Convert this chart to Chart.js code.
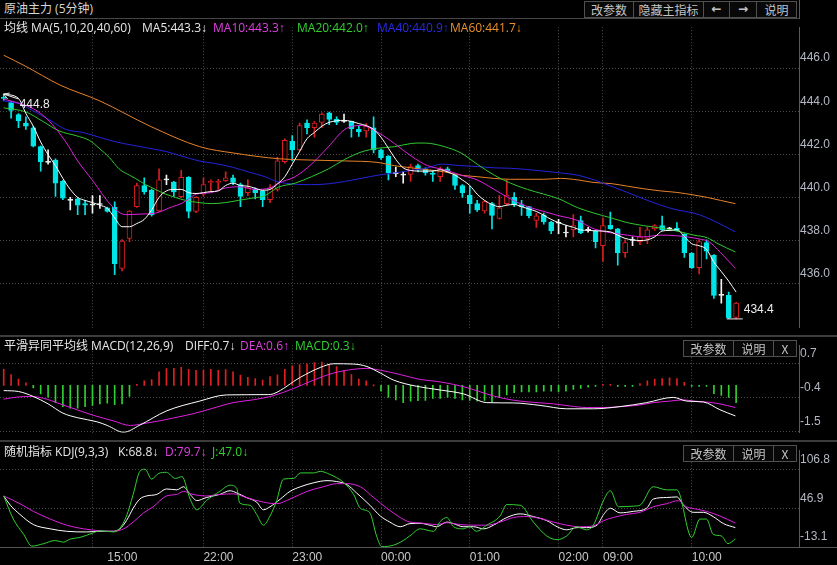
<!DOCTYPE html>
<html>
<head>
<meta charset="utf-8">
<title>原油主力 (5分钟)</title>
<script src="https://cdn.jsdelivr.net/npm/chart.js@4.4.1/dist/chart.umd.min.js"></script>
<style>
  html, body { margin: 0; padding: 0; background: #000; overflow: hidden; }
  #wrap { position: relative; width: 837px; height: 565px; background: #000; overflow: hidden;
          font-family: "Open Sans", "Noto Sans CJK SC", sans-serif; }
  canvas { position: absolute; left: 0; }
  .txt { position: absolute; font-size: 12px; line-height: 14px; white-space: nowrap; z-index: 3; }
  .txt b { font-weight: normal; font-family: "Liberation Sans", sans-serif; }
  .btn { position: absolute; height: 17px; border: 1px solid #505050; box-sizing: border-box; color: #c4c4c4;
         font-size: 12px; line-height: 15px; text-align: center; background: #080808; z-index: 3;
         font-family: "Noto Sans CJK SC", sans-serif; }
  .hl { position: absolute; left: 0; background: #464646; z-index: 2; }
</style>
</head>
<body>
<div id="wrap">
  <canvas id="main" width="837" height="317" style="top:19px;width:837px;height:317px"></canvas>
  <canvas id="macd" width="837" height="104" style="top:337px;width:837px;height:104px"></canvas>
  <canvas id="kdj" width="837" height="123" style="top:442px;width:837px;height:123px"></canvas>

  <div class="hl" style="top:18px;width:799px;height:1px"></div>
  <div class="hl" style="top:0;left:799px;width:1px;height:19px;background:#5a5a5a"></div>
  <div class="hl" style="top:335px;width:837px;height:2px;background:#3c3c3c"></div>
  <div class="hl" style="top:440px;width:837px;height:2px;background:#3c3c3c"></div>
  <div class="hl" style="top:547px;width:837px;height:1px;background:#555"></div>

  <div class="txt" style="left:4px;top:2px;color:#d6d6d6">原油主力 (5分钟)</div>
  <div class="txt" style="left:4px;top:21px;color:#e6e6e6">均线 MA(5,10,20,40,60)</div>
  <div class="txt" style="left:142px;top:21px;color:#e6e6e6">MA5:443.3<b>↓</b></div>
  <div class="txt" style="left:213px;top:21px;color:#e040e0">MA10:443.3<b>↑</b></div>
  <div class="txt" style="left:297px;top:21px;color:#30d030">MA20:442.0<b>↑</b></div>
  <div class="txt" style="left:377px;top:21px;color:#2a2ae6">MA40:440.9<b>↑</b></div>
  <div class="txt" style="left:450px;top:21px;color:#e8902a">MA60:441.7<b>↓</b></div>

  <div class="btn" style="left:584px;top:1px;width:50px">改参数</div>
  <div class="btn" style="left:633px;top:1px;width:71px">隐藏主指标</div>
  <div class="btn" style="left:703px;top:1px;width:27px;font-family:'DejaVu Sans';font-weight:bold">←</div>
  <div class="btn" style="left:729px;top:1px;width:28px;font-family:'DejaVu Sans';font-weight:bold">→</div>
  <div class="btn" style="left:756px;top:1px;width:41px">说明</div>

  <div class="txt" style="left:4px;top:339px;color:#e6e6e6">平滑异同平均线 MACD(12,26,9)</div>
  <div class="txt" style="left:185px;top:339px;color:#e6e6e6">DIFF:0.7<b>↓</b></div>
  <div class="txt" style="left:240px;top:339px;color:#e040e0">DEA:0.6<b>↑</b></div>
  <div class="txt" style="left:295px;top:339px;color:#30d030">MACD:0.3<b>↓</b></div>
  <div class="btn" style="left:683px;top:340px;width:51px">改参数</div>
  <div class="btn" style="left:733px;top:340px;width:41px">说明</div>
  <div class="btn" style="left:773px;top:340px;width:24px">X</div>

  <div class="txt" style="left:4px;top:445px;color:#e6e6e6">随机指标 KDJ(9,3,3)</div>
  <div class="txt" style="left:118px;top:445px;color:#e6e6e6">K:68.8<b>↓</b></div>
  <div class="txt" style="left:165px;top:445px;color:#e040e0">D:79.7<b>↓</b></div>
  <div class="txt" style="left:212px;top:445px;color:#30d030">J:47.0<b>↓</b></div>
  <div class="btn" style="left:683px;top:445px;width:51px">改参数</div>
  <div class="btn" style="left:733px;top:445px;width:41px">说明</div>
  <div class="btn" style="left:773px;top:445px;width:24px">X</div>
</div>

<script>
// candles, one per 5 minutes (index 0..99)
const open = [444.65,444.41,443.85,443.46,443.24,442.36,441.63,441.74,440.75,439.87,
  439.94,439.72,439.65,439.68,439.53,439.55,436.72,438.11,439.58,440.56,
  440.34,439.38,440.82,440.72,440.04,440.94,439.36,440.16,440.70,440.70,
  440.78,440.92,440.60,440.23,440.38,440.31,439.91,440.38,441.67,442.61,
  442.21,443.46,443.24,443.49,443.93,443.63,443.53,443.53,443.16,443.09,
  443.24,442.21,441.92,441.11,441.04,441.07,441.48,441.33,441.14,440.97,
  441.33,441.04,440.56,440.12,439.72,439.38,439.72,439.03,439.72,440.01,
  439.68,439.58,438.94,439.18,438.87,438.81,438.36,438.51,438.94,438.50,
  438.45,437.77,438.72,438.55,437.45,438.01,437.96,438.11,438.55,438.70,
  438.55,438.59,438.30,437.42,436.75,437.92,437.33,435.47,435.47,434.45];
const high = [444.80,444.45,443.90,443.75,443.30,442.40,442.21,441.80,440.80,440.01,
  440.00,439.87,440.09,440.09,439.56,439.80,438.05,439.40,440.67,440.92,
  440.40,441.33,441.04,440.75,441.26,440.97,440.05,440.92,440.82,440.85,
  441.19,441.04,440.67,440.82,440.45,440.33,440.60,441.88,442.73,442.87,
  443.46,443.60,443.53,443.93,443.97,443.75,443.87,443.55,443.31,443.43,
  443.75,442.25,441.95,441.41,441.19,441.55,441.55,441.38,441.26,441.41,
  441.41,441.08,440.60,440.53,439.87,439.87,439.78,440.09,440.82,440.23,
  439.87,439.60,439.28,439.28,438.90,438.99,438.70,439.21,439.14,438.62,
  438.48,439.06,439.33,438.58,438.04,438.18,438.62,438.62,438.75,439.14,
  438.62,438.84,438.33,437.45,438.04,438.04,437.36,436.21,435.62,435.15];
const low = [444.50,443.68,443.24,443.16,442.35,441.23,441.55,440.06,439.90,439.43,
  439.21,439.21,439.28,439.50,439.33,436.43,436.60,437.96,439.55,440.16,
  439.14,439.35,440.60,440.06,440.00,439.06,439.30,440.06,440.31,440.38,
  440.75,440.60,439.58,440.09,439.94,439.58,439.77,440.30,441.60,441.70,
  442.15,442.95,442.80,443.24,443.38,443.38,443.49,442.80,442.84,442.80,
  442.07,441.77,440.82,440.97,440.67,440.75,441.19,441.04,440.75,440.75,
  441.19,440.38,440.01,439.28,439.36,439.28,438.55,439.00,439.65,439.58,
  439.18,439.06,438.62,438.77,438.33,438.33,438.18,438.18,438.33,438.40,
  437.67,437.04,438.52,436.87,437.23,437.77,437.82,437.86,438.48,438.48,
  438.48,438.45,437.23,436.72,436.46,437.16,435.33,435.11,434.40,434.38];
const close = [444.60,444.04,443.56,443.31,442.39,441.67,441.63,440.67,439.97,439.87,
  439.65,439.65,439.65,439.68,439.36,436.94,437.99,439.38,440.56,440.26,
  439.21,440.82,440.82,440.26,440.94,439.36,440.01,440.60,440.75,440.75,
  440.92,440.70,440.06,440.45,440.23,439.91,440.45,441.70,442.65,442.21,
  443.34,443.24,443.46,443.87,443.63,443.49,443.53,443.19,443.05,443.31,
  442.21,441.85,441.14,441.11,441.04,441.44,441.33,441.14,441.08,441.33,
  441.23,440.56,440.23,439.72,439.43,439.82,439.18,439.53,440.12,439.68,
  439.58,439.16,439.16,438.87,438.45,438.81,438.36,438.70,438.36,438.50,
  437.96,438.70,438.55,437.45,437.92,438.01,438.18,438.51,438.70,438.51,
  438.55,438.48,437.45,436.75,437.96,437.52,435.47,435.47,434.42,435.11];

// moving averages as [candle index, price]
const ma5 = [[0,444.8],[2,444.6],[3,443.9],[4,443.31],[5,442.58],[6,441.99],[7,441.48],[8,440.89],[9,440.38],
  [10,440.01],[11,439.87],[12,439.77],[13,439.65],[14,439.5],[15,439.06],[16,438.65],[17,438.65],[18,438.8],
  [19,438.99],[20,439.43],[21,440.01],[22,440.31],[23,440.38],[24,440.38],[25,440.23],[26,440.19],[27,440.23],
  [28,440.28],[29,440.31],[30,440.56],[31,440.67],[32,440.56],[33,440.53],[34,440.43],[35,440.34],[36,440.38],
  [37,440.63],[38,440.97],[39,441.55],[40,442.14],[41,442.73],[42,443.02],[43,443.31],[44,443.49],[45,443.56],
  [46,443.58],[47,443.53],[48,443.43],[49,443.34],[50,443.16],[51,442.8],[52,442.29],[53,441.77],[54,441.38],
  [55,441.26],[56,441.23],[57,441.23],[58,441.23],[59,441.29],[60,441.19],[61,441.04],[62,440.82],[63,440.56],
  [64,440.16],[65,439.87],[66,439.68],[67,439.58],[68,439.65],[69,439.68],[70,439.58],[71,439.47],[72,439.36],
  [73,439.18],[74,438.99],[75,438.84],[76,438.72],[77,438.62],[78,438.5],[79,438.48],[80,438.46],[82,438.41],
  [83,438.26],[84,438.11],[85,438.04],[86,438.01],[87,438.04],[88,438.18],[89,438.45],[90,438.48],[91,438.51],
  [92,438.2],[93,437.86],[94,437.77],[95,437.6],[96,437.01],[97,436.57],[98,436.13],[99,435.62]];
const ma10 = [[0,444.56],[1,444.48],[4,444.12],[6,443.6],[8.4,442.58],[10,441.7],[12,440.8],[14.7,439.58],
  [16.5,439.21],[18.7,439.24],[20.5,439.28],[22.8,439.58],[24,439.72],[25,439.94],[26,440.16],[28,440.23],
  [30,440.45],[32,440.5],[34,440.38],[36,440.45],[37.1,440.67],[39.4,440.97],[41.6,441.55],[43.9,442.36],
  [46.1,443.16],[48.3,443.34],[50.6,443.02],[52.8,442.51],[55.1,441.92],[57.3,441.48],[59.6,441.29],
  [61.8,441.04],[64,440.82],[66.3,440.38],[68.5,439.94],[70.8,439.58],[73,439.36],[74.8,439.18],[77.5,438.95],
  [79.8,438.55],[84.3,438.26],[86.5,438.18],[88.8,438.26],[91,438.23],[94.2,438.07],[95.3,437.96],
  [96.9,437.45],[98.9,436.72]];
const ma20 = [[0,444.16],[3,443.97],[5.3,443.53],[7.5,443.09],[9.8,442.87],[11.6,442.65],[12.9,442.29],
  [14.3,441.85],[15.6,441.33],[17,441.04],[17.8,440.89],[19.2,440.6],[20.5,440.38],[21.9,440.16],[23.2,440.01],
  [24.6,439.87],[26.4,439.77],[28.2,439.72],[30,439.77],[31.7,439.87],[33.5,439.97],[35.3,440.09],[37.1,440.48],
  [39.4,440.67],[41.6,440.97],[43.9,441.33],[46.1,441.77],[48.3,442.11],[50.6,442.29],[52.8,442.36],
  [55.1,442.51],[56.4,442.53],[57.7,442.51],[59.6,442.36],[61.8,442.07],[64,441.55],[66.3,441.04],
  [68.5,440.67],[70.8,440.38],[73,440.16],[75,439.95],[77.6,439.53],[79.8,439.28],[82.1,439.06],[84.3,438.84],
  [86.5,438.7],[88.8,438.59],[91,438.45],[93.3,438.26],[95.1,438.14],[96.4,437.89],[97.7,437.67],[98.9,437.48]];
const ma40 = [[0,444.48],[2.2,444.34],[3.9,444.04],[6.2,443.6],[8.4,443.16],[10.7,443.02],[12.9,442.8],
  [15.2,442.58],[17.4,442.43],[19.6,442.29],[21.9,442.14],[24.1,441.92],[26.4,441.7],[28.6,441.58],
  [30.9,441.41],[33.1,441.19],[35.3,440.97],[37.1,440.73],[41.6,440.6],[43.9,440.64],[46.1,440.75],
  [48.3,440.89],[50.6,441.04],[52.8,441.14],[55.1,441.26],[57.3,441.38],[59.1,441.55],[61.8,441.48],
  [64,441.44],[66.3,441.38],[68.5,441.36],[70.8,441.3],[73,441.23],[75.3,441.14],[77.6,441.04],[79.8,440.82],
  [82.1,440.53],[84.3,440.24],[86.5,439.94],[88.8,439.65],[91,439.43],[93.3,439.28],[95.1,439.06],
  [96.9,438.77],[98.9,438.41]];
const ma60 = [[0,446.6],[2.9,446.1],[7.6,445.22],[13,444.48],[19.8,443.31],[26.5,442.36],[31,442.07],
  [37.2,441.8],[41.6,441.74],[46.1,441.7],[50.6,441.63],[52.8,441.48],[55.1,441.38],[57.3,441.29],
  [59.6,441.19],[61.8,441.04],[64,440.97],[66.3,440.89],[68.5,440.85],[73,440.85],[75.3,440.89],
  [77.6,440.82],[79.8,440.7],[82.1,440.65],[84.3,440.53],[86.5,440.41],[88.8,440.31],[91,440.24],
  [93.3,440.12],[95.1,440.01],[96.9,439.87],[98.9,439.72]];

// MACD histogram (one bar per candle) and the two lines
const macdHist = [0.52,0.35,0.20,0.08,-0.08,-0.28,-0.38,-0.56,-0.69,-0.74,
  -0.74,-0.69,-0.65,-0.60,-0.58,-0.63,-0.60,-0.36,0.01,0.15,
  0.19,0.44,0.54,0.55,0.58,0.52,0.49,0.49,0.52,0.49,
  0.51,0.44,0.33,0.26,0.22,0.17,0.28,0.34,0.52,0.63,
  0.67,0.70,0.74,0.75,0.67,0.61,0.49,0.35,0.20,0.15,
  0.00,-0.19,-0.39,-0.47,-0.56,-0.51,-0.50,-0.49,-0.42,-0.42,
  -0.39,-0.42,-0.47,-0.49,-0.51,-0.49,-0.54,-0.40,-0.31,-0.24,
  -0.21,-0.21,-0.21,-0.19,-0.19,-0.21,-0.19,-0.13,-0.10,-0.06,
  -0.03,0.01,0.03,-0.02,-0.02,-0.02,0.06,0.15,0.20,0.22,
  0.24,0.22,0.10,-0.02,-0.02,-0.02,-0.27,-0.33,-0.39,-0.56];
const diff = [[0,-0.17],[2,-0.2],[4,-0.36],[6,-0.6],[8,-0.9],[10,-1.05],[12.6,-1.18],[14,-1.3],[16.2,-1.52],
  [18.4,-1.29],[22,-0.83],[26.5,-0.51],[30.1,-0.31],[35.6,-0.3],[36.5,-0.27],[40.1,0.26],[42.8,0.58],
  [44.6,0.7],[47.3,0.69],[49.1,0.61],[50.9,0.4],[52.7,0.17],[55.8,-0.03],[59,-0.15],[62.2,-0.28],
  [65.3,-0.56],[68.9,-0.57],[72.5,-0.65],[76.1,-0.76],[79.7,-0.76],[83.3,-0.69],[86.9,-0.56],[90.5,-0.39],
  [92.3,-0.51],[94.6,-0.54],[96.8,-0.79],[98.9,-0.99]];
const dea = [[0,-0.45],[1.8,-0.38],[3.6,-0.36],[5.4,-0.42],[7.6,-0.6],[9.9,-0.79],[12.1,-0.97],[14.8,-1.15],
  [17.1,-1.3],[18.9,-1.24],[21.1,-1.15],[22.9,-1.06],[25.6,-0.92],[28.3,-0.74],[31,-0.56],[33.7,-0.47],
  [36.5,-0.33],[39.2,-0.1],[41.9,0.17],[44.6,0.4],[47.3,0.52],[49.1,0.55],[50.9,0.49],[53.6,0.35],
  [56.3,0.19],[58.5,0.13],[60.8,0.03],[63,-0.1],[65.3,-0.28],[67.5,-0.42],[69.8,-0.51],[72.1,-0.56],
  [74.3,-0.6],[76.6,-0.67],[78.8,-0.72],[81.1,-0.72],[83.3,-0.69],[85.6,-0.65],[87.8,-0.56],[90.1,-0.51],
  [91.9,-0.47],[93.2,-0.51],[95,-0.54],[96.8,-0.6],[98.9,-0.72]];

// KDJ lines
const kdjK = [[0,66.2],[0.9,51.8],[2.2,37.5],[4,21.8],[6.3,15.1],[8.5,11.3],[11.2,10.3],[13,11.3],[14.8,11.3],
  [15.7,15.1],[16.6,28],[17.5,47.1],[18.4,61.4],[19.3,66.2],[20.7,68.6],[22,77.1],[23.4,75.7],[24.3,80.5],
  [25.2,68.6],[26.1,59],[27.4,63.8],[29.2,68.6],[30.6,74.3],[31.5,70.9],[32.8,63.8],[34.2,56.6],[35.1,44.7],
  [36,49.4],[37.4,61.4],[38.7,73.3],[40.1,80.5],[41.9,86.7],[43.7,90],[45,88.6],[46.4,83.8],[47.7,70.9],
  [49.5,51.8],[50.9,35.1],[52.2,25.6],[53.6,18.4],[54.9,23.2],[56.3,23.7],[57.6,20.8],[58.5,18.4],[59.9,25.6],
  [60.8,23.2],[62.1,18.4],[63.5,18.4],[64.9,15.1],[66.2,20.8],[68,32.7],[69.8,38.4],[71.6,34.1],[73.4,27.9],
  [74.8,18.4],[76.1,13.6],[77.5,17],[78.8,17],[80.2,20.8],[81.1,37.5],[82,47.1],[83.3,39.9],[85.1,42.3],
  [86.9,47.1],[87.8,61.4],[89.6,63.8],[91,64.7],[91.9,51.8],[93.2,40.8],[94.6,40.8],[95.9,34.1],[97.3,23.2],
  [98.9,17]];
const kdjD = [[0,66.2],[2.2,54.2],[4,42.3],[6.3,30.3],[8.5,20.8],[10.8,15.1],[13,12.2],[14.8,11.3],[16.2,15.1],
  [17.5,25.6],[18.9,39.9],[20.2,49.4],[22,66.2],[23.4,68.6],[24.3,73.3],[25.6,68.6],[27.4,66.2],[29.2,68.6],
  [31,69.5],[32.8,63.8],[35.1,56.6],[36.9,54.2],[38.7,61.4],[41,73.3],[43.2,80.5],[45,85.3],[46.4,85.3],
  [48.2,80.5],[50,63.8],[51.8,47.1],[53.6,32.7],[54.9,25.6],[56.3,24.3],[58.5,21.8],[59.9,24.6],[61.7,21.8],
  [63.5,20.8],[65.3,20.8],[67.1,25.6],[68.9,32.7],[70.7,34.1],[72.5,31.3],[74.3,25.6],[76.1,20.8],[77.9,18.4],
  [79.7,19.8],[81.1,27.9],[82.4,32.7],[84.2,37.5],[86,40.8],[87.8,49.4],[89.6,54.2],[91.2,58.9],[92.3,49.4],
  [93.7,45.6],[95,42.3],[96.8,35.1],[98.9,24.1]];
const kdjJ = [[0,66.2],[1.3,30.3],[2.7,6.5],[3.8,-11.7],[5.4,-7.9],[6.9,-3.1],[8.1,-5.5],[9,-0.7],[10.3,1.7],
  [12.1,8.9],[13,12.2],[14.8,10.3],[15.7,16],[16.6,35.1],[17.5,68.6],[18.4,104.4],[19.1,107.7],[20,92.4],
  [20.9,101],[22,102.9],[23.2,93.4],[24.1,96.2],[25.2,61.4],[26.1,44.7],[27.4,59],[29.2,73.3],[30.6,82.9],
  [31.5,78.1],[31.9,55.2],[33.3,51.8],[34.2,37.5],[35.1,20.8],[36,35.1],[36.9,59],[37.8,92.4],[39.2,93.4],
  [40.1,102],[41.9,102],[42.8,104.4],[44.1,99.6],[45.9,87.6],[47.3,68.6],[48.2,47.1],[49.5,39.9],[50.4,4.1],
  [51.1,-12.6],[52.7,-10.2],[54,-3.1],[54.9,4.1],[56.3,15.1],[58.1,11.3],[59,26.5],[59.9,32.7],[60.8,18.4],
  [62.1,15.1],[63,18.4],[63.9,11.3],[65.3,20.8],[67.1,35.1],[68,52.8],[69.8,51.8],[71.6,25.6],[73.4,4.1],
  [74.8,-1.7],[76.1,4.1],[77.4,18.4],[78.8,13.6],[79.7,20.8],[81.1,60],[82,74.3],[83.1,49.4],[85.1,50.4],
  [86,51.8],[87.8,80.5],[89.6,75.7],[91,75.7],[93,1.7],[94.1,30.3],[95,30.3],[95.9,6.5],[97,4.1],[97.9,-7.9],
  [98.9,-0.7]];

// axes
const priceTicks = [436, 438, 440, 442, 444, 446];
const macdTicks = [0.7, -0.4, -1.5];
const kdjTicks = [106.8, 46.9, -13.1];
const gridIdx = [12, 27, 39, 51, 63, 75, 81, 93];
const timeIdx = [14, 27, 39, 51, 63, 75, 81, 93];
const timeLabels = ['15:00', '22:00', '23:00', '00:00', '01:00', '02:00', '09:00', '10:00'];
const highMark = { idx: 0, value: 444.8 };
const lowMark = { idx: 98, value: 434.4 };

const UP = '#d81e1e', DOWN = '#00e5e5', FLAT = '#f2f2f2';
const GRID = '#4a4a4a';
const numFont = { family: 'Liberation Sans', size: 12 };

const candleColor = close.map((c, i) => Math.abs(c - open[i]) < 0.005 ? FLAT : (c > open[i] ? UP : DOWN));
const bodyFill = candleColor.map(c => c === UP ? '#000000' : c);

function xScale(withLabels) {
  const tickList = withLabels ? [...new Set(gridIdx.concat(timeIdx))] : gridIdx;
  return {
    type: 'linear', min: -0.5, max: 107.5, offset: false,
    afterBuildTicks: s => { s.ticks = tickList.map(v => ({ value: v })); },
    afterFit: s => { s.height = withLabels ? 18 : 0; },
    grid: { offset: false, drawTicks: false, lineWidth: 1,
            color: c => (c.tick && gridIdx.includes(c.tick.value)) ? GRID : 'rgba(0,0,0,0)' },
    border: { display: false, dash: [1, 2] },
    ticks: { display: withLabels, autoSkip: false, maxRotation: 0, align: 'start', padding: 3,
             color: '#c8c8c8', font: numFont,
             callback: v => { const k = timeIdx.indexOf(v); return k >= 0 ? timeLabels[k] : ''; } }
  };
}

function yScale(min, max, ticks, digits) {
  return {
    position: 'right', min: min, max: max, beginAtZero: false,
    afterBuildTicks: s => { s.ticks = ticks.map(v => ({ value: v })); },
    afterFit: s => { s.width = 38; },
    grid: { color: GRID, drawTicks: false, lineWidth: 1 },
    border: { display: true, color: '#5a5a5a', width: 1, dash: [1, 2] },
    ticks: { autoSkip: false, color: '#b4b8c4', padding: 1, labelOffset: -10, font: numFont,
             callback: v => Number(v).toFixed(digits) }
  };
}

function lineSet(pts, color) {
  return { type: 'line', data: pts.map(p => ({ x: p[0], y: p[1] })), borderColor: color, borderWidth: 1,
           pointRadius: 0, fill: false, cubicInterpolationMode: 'monotone', order: 0 };
}

const base = {
  responsive: false, animation: false, events: [],
  layout: { padding: 0, autoPadding: false },
  plugins: { legend: { display: false }, tooltip: { enabled: false } }
};

const markPlugin = {
  id: 'marks',
  afterDatasetsDraw(chart) {
    const { ctx, scales: { x, y } } = chart;
    ctx.save();
    ctx.strokeStyle = '#ececec';
    ctx.fillStyle = '#ececec';
    ctx.lineWidth = 1;
    ctx.font = '12px "Liberation Sans"';
    ctx.textBaseline = 'middle';
    const hx = x.getPixelForValue(highMark.idx), hy = y.getPixelForValue(highMark.value);
    ctx.beginPath();
    ctx.moveTo(hx, hy); ctx.lineTo(hx + 15, hy + 5);
    ctx.moveTo(hx, hy); ctx.lineTo(hx + 6, hy - 1);
    ctx.moveTo(hx, hy); ctx.lineTo(hx + 4, hy + 5);
    ctx.stroke();
    ctx.fillText(highMark.value.toFixed(1), hx + 16, hy + 11);
    const lx = x.getPixelForValue(lowMark.idx), ly = y.getPixelForValue(lowMark.value);
    ctx.beginPath();
    ctx.moveTo(lx - 2, ly + 0.5); ctx.lineTo(lx + 14, ly + 0.5);
    ctx.stroke();
    ctx.fillText(lowMark.value.toFixed(1), lx + 15, ly - 9);
    ctx.restore();
  }
};

const idx = close.map((c, i) => i);

new Chart(document.getElementById('main'), {
  type: 'bar',
  data: {
    datasets: [
      lineSet(ma5, '#ffffff'),
      lineSet(ma10, '#e020e0'),
      lineSet(ma20, '#30c830'),
      lineSet(ma40, '#2424dc'),
      lineSet(ma60, '#e8822a'),
      { type: 'bar', order: 1, grouped: false, barThickness: 5, minBarLength: 1, borderSkipped: false,
        borderWidth: 1, borderColor: candleColor, backgroundColor: bodyFill,
        data: idx.map(i => ({ x: i, y: [open[i], close[i]] })) },
      { type: 'bar', order: 2, grouped: false, barThickness: 1, minBarLength: 1, borderWidth: 0,
        backgroundColor: candleColor,
        data: idx.map(i => ({ x: i, y: [low[i], high[i]] })) }
    ]
  },
  options: Object.assign({}, base, {
    scales: { x: xScale(false), y: yScale(433.965, 447.899, priceTicks, 1) }
  }),
  plugins: [markPlugin]
});

new Chart(document.getElementById('macd'), {
  type: 'bar',
  data: {
    datasets: [
      lineSet(diff, '#ffffff'),
      lineSet(dea, '#e020e0'),
      { type: 'bar', order: 1, grouped: false, barThickness: 1, minBarLength: 1, borderWidth: 0,
        backgroundColor: macdHist.map(v => v >= 0 ? '#e02020' : '#30d030'),
        data: macdHist.map((v, i) => ({ x: i, y: v })) }
    ]
  },
  options: Object.assign({}, base, {
    scales: { x: xScale(false), y: yScale(-1.538, 1.301, macdTicks, 1) }
  })
});

new Chart(document.getElementById('kdj'), {
  type: 'line',
  data: {
    datasets: [
      lineSet(kdjJ, '#30d030'),
      lineSet(kdjD, '#e020e0'),
      lineSet(kdjK, '#ffffff')
    ]
  },
  options: Object.assign({}, base, {
    scales: { x: xScale(true), y: yScale(-13.1, 137.3, kdjTicks, 1) }
  })
});
</script>
</body>
</html>
